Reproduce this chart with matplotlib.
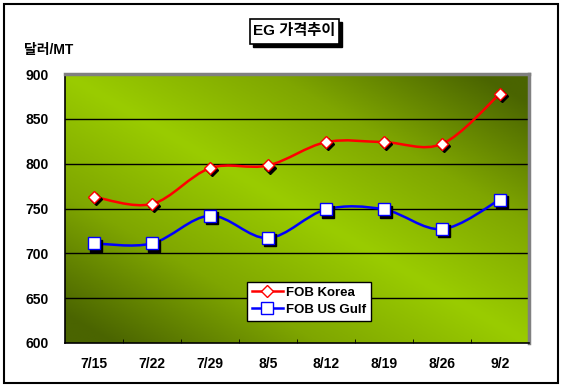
import numpy as np
import matplotlib
matplotlib.use("Agg")
import matplotlib.pyplot as plt
from matplotlib.colors import LinearSegmentedColormap
from matplotlib.patches import Rectangle
from matplotlib.path import Path
from matplotlib.patches import PathPatch
import matplotlib.transforms as mtransforms

plt.rcParams["font.family"] = ["Liberation Sans", "Noto Sans CJK KR", "DejaVu Sans"]
plt.rcParams["font.weight"] = "bold"

dates = ["7/15", "7/22", "7/29", "8/5", "8/12", "8/19", "8/26", "9/2"]
fob_korea = [763, 755, 795, 798, 824, 824, 822, 878]
fob_us_gulf = [711, 711, 742, 717, 749, 749, 727, 760]


def smooth_path(xs, ys):
    # Catmull-Rom style bezier, like Excel smoothed lines
    pts = np.column_stack([xs, ys]).astype(float)
    verts = [pts[0]]
    codes = [Path.MOVETO]
    n = len(pts)
    for i in range(n - 1):
        p0 = pts[max(i - 1, 0)]
        p1 = pts[i]
        p2 = pts[i + 1]
        p3 = pts[min(i + 2, n - 1)]
        c1 = p1 + (p2 - p0) / 6.0
        c2 = p2 - (p3 - p1) / 6.0
        verts += [c1, c2, p2]
        codes += [Path.CURVE4] * 3
    return Path(verts, codes)


fig = plt.figure(figsize=(5.64, 3.88), dpi=100)
fig.patch.set_facecolor("white")
fig.add_artist(Rectangle((4 / 564, 5 / 388), 554 / 564, 379 / 388, transform=fig.transFigure,
                         fill=False, edgecolor="black", linewidth=1.5))

ax = fig.add_axes([65 / 564, 45 / 388, 464 / 564, 269 / 388])

# diagonal green gradient background
gx, gy = np.meshgrid(np.linspace(0, 1, 300), np.linspace(0, 1, 200))
d = np.abs(gx + gy - 1.0)
cmap = LinearSegmentedColormap.from_list("g", ["#9acc00", "#7fa600", "#4a6400"])
ax.imshow(d, cmap=cmap, extent=[0, 1, 0, 1], origin="lower", transform=ax.transAxes,
          aspect="auto", zorder=0, vmin=0, vmax=0.9)

x = np.arange(len(dates))
ax.set_xlim(-0.5, len(dates) - 0.5)
ax.set_ylim(600, 900)

for yv in [650, 700, 750, 800, 850]:
    ax.axhline(yv, color="black", linewidth=1.0, zorder=1)

shadow = mtransforms.offset_copy(ax.transData, fig=fig, x=1.6, y=-1.6, units="points")

for vals, color, marker in [(fob_korea, "#ff0000", "D"), (fob_us_gulf, "#0000ff", "s")]:
    ax.add_patch(PathPatch(smooth_path(x, vals), fill=False, edgecolor=color, linewidth=1.8, zorder=3))
    ms = 6.5 if marker == "D" else 8.5
    ax.plot(x, vals, linestyle="none", marker=marker, markersize=ms, color="black",
            transform=shadow, zorder=4)
    ax.plot(x, vals, linestyle="none", marker=marker, markersize=ms, markerfacecolor="white",
            markeredgecolor=color, markeredgewidth=1.0, zorder=5)

# legend handles
ax.plot([], [], color="#ff0000", linewidth=1.8, marker="D", markersize=6.5,
        markerfacecolor="white", markeredgecolor="#ff0000", label="FOB Korea")
ax.plot([], [], color="#0000ff", linewidth=1.8, marker="s", markersize=8.5,
        markerfacecolor="white", markeredgecolor="#0000ff", label="FOB US Gulf")
handles, labels = ax.get_legend_handles_labels()
leg = ax.legend(handles[-2:], labels[-2:], loc="upper left", bbox_to_anchor=(0.392, 0.226),
                frameon=True, fancybox=False, edgecolor="black", facecolor="white", framealpha=1,
                prop={"weight": "bold", "size": 9.5}, handlelength=2.4, handletextpad=0.2,
                borderpad=0.35, labelspacing=0.35, borderaxespad=0)
leg.get_frame().set_linewidth(1.0)
leg.set_zorder(6)

ax.set_xticks(x)
ax.set_xticklabels(dates, fontsize=10, fontweight="bold")
ax.set_xticks(np.arange(0.5, len(dates) - 0.5, 1), minor=True)
ax.tick_params(axis="x", which="major", length=0, pad=10)
ax.tick_params(axis="x", which="minor", length=3, direction="in", color="black")
ax.set_yticks([600, 650, 700, 750, 800, 850, 900])
ax.tick_params(axis="y", length=0, pad=12, labelsize=10)
for lbl in ax.get_yticklabels():
    lbl.set_fontweight("bold")

for side in ["left", "bottom"]:
    ax.spines[side].set_color("black")
    ax.spines[side].set_linewidth(1.2)
for side in ["top", "right"]:
    ax.spines[side].set_color("#808080")
    ax.spines[side].set_linewidth(2.5)

fig.text(24 / 564, 1 - 50 / 388, "달러/MT", fontsize=10, fontweight="bold", va="center", ha="left")

# title box with shadow
fig.add_artist(Rectangle((253 / 564, 1 - 47 / 388), 89 / 564, 25 / 388, transform=fig.transFigure,
                         facecolor="black", edgecolor="black"))
fig.add_artist(Rectangle((250 / 564, 1 - 44 / 388), 89 / 564, 25 / 388, transform=fig.transFigure,
                         facecolor="white", edgecolor="black", linewidth=1.2))
fig.text(294.5 / 564, 1 - 31.5 / 388, "EG 가격추이", fontsize=11, fontweight="bold",
         ha="center", va="center")

fig.savefig("out.png", dpi=100)
